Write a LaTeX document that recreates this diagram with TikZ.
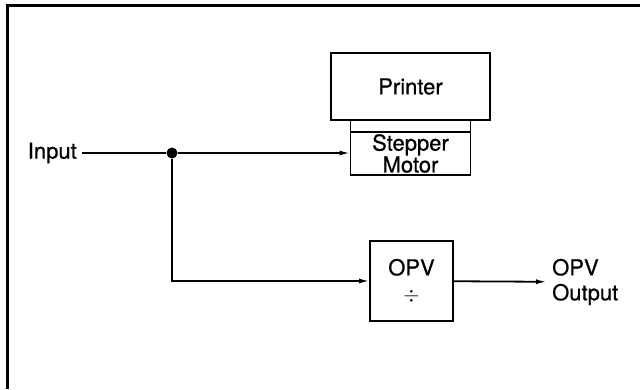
\documentclass[tikz,border=0pt]{standalone}
\usepackage{fontspec}
\setmainfont{TeX Gyre Heros}[FakeBold=0.6]
\usetikzlibrary{positioning,arrows.meta}
\tikzset{
  block/.style={rectangle, draw=black, line width=1.8pt, inner sep=0pt, outer sep=0pt, align=center},
  junc/.style={circle, fill=black, minimum size=11pt, inner sep=0pt},
  lbl/.style={inner sep=5pt, align=left},
  sig/.style={line width=1.8pt, -{Latex[length=11pt,width=5pt]}},
}

\begin{document}
\begin{tikzpicture}[
  x=1pt, y=-1pt,
  font=\fontsize{22}{20}\selectfont
]
  \useasboundingbox (0,0) rectangle (640,389);
  \draw[line width=3pt] (7,389) -- (7,5.5) -- (640,5.5);

  \node[block, minimum width=159pt, minimum height=67pt] (printer) at (410.5,86.5) {Printer};
  \node[block, minimum width=120pt, minimum height=12pt, below=0pt of printer] (strip) {};
  \node[block, minimum width=120pt, minimum height=43pt, below=0pt of strip] (stepper) {Stepper\\Motor};
  \node[block, minimum width=83pt, minimum height=80pt] (opv) at (411.5,281) {OPV\\[6pt]$\div$};

  \node[lbl, anchor=east] (inp) at (82,153) {Input};
  \node[junc] (j) at (172,153) {};
  \node[lbl, anchor=west, font=\fontsize{22}{25}\selectfont] (outp) at (547,282) {OPV\\Output};

  \draw[line width=1.8pt] (inp) -- (j);
  \draw[sig] (j) -- (j -| stepper.west);
  \draw[sig] (j) |- (opv.west);
  \draw[sig] (opv) -- (outp);
\end{tikzpicture}
\end{document}
